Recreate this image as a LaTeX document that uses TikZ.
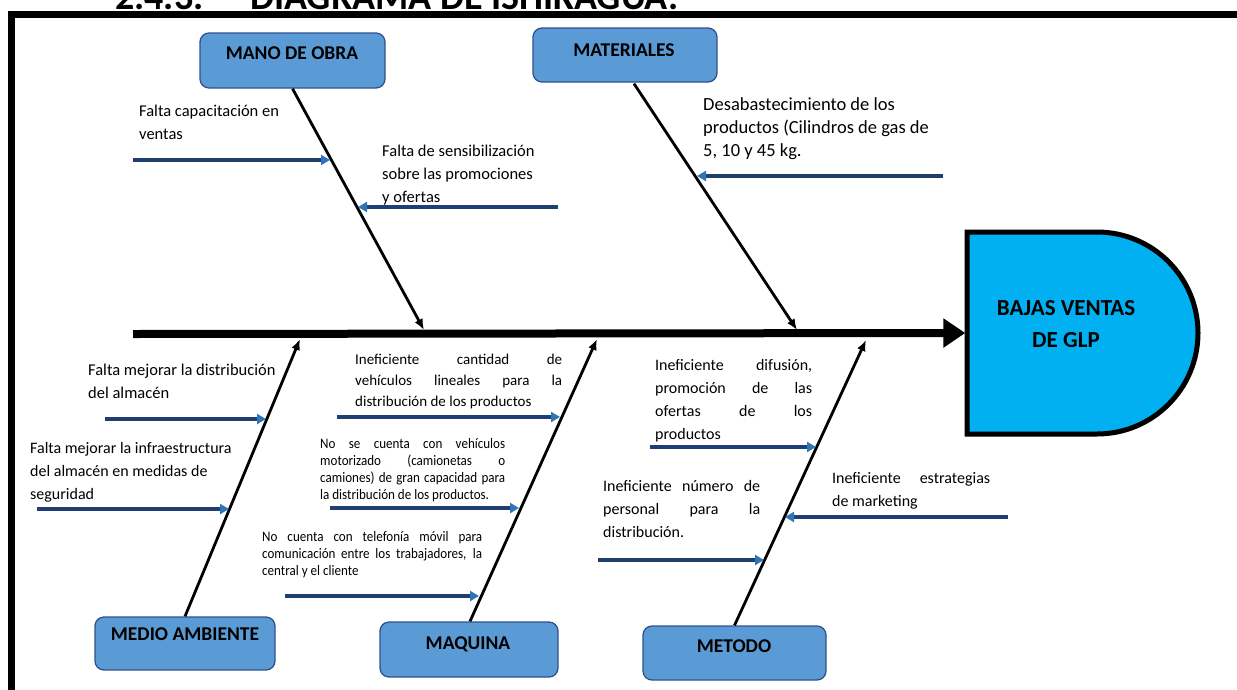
\documentclass[tikz,border=0pt]{standalone}
\usepackage{fontspec}
\setmainfont{Carlito}
\usetikzlibrary{arrows.meta,calc}
\hyphenpenalty=10000
\tolerance=10000
\hbadness=10000
\definecolor{boxblue}{HTML}{5B9BD5}
\definecolor{boxedge}{HTML}{2F528F}
\definecolor{effblue}{HTML}{00B0F0}
\definecolor{navy}{HTML}{1F3F73}
\definecolor{tipblue}{HTML}{2E75B6}
\tikzset{
  catbox/.style={draw=boxedge, fill=boxblue, line width=1.3pt, rounded corners=9pt, inner sep=0pt},
  cattext/.style={font=\fontsize{19.5}{20}\selectfont\bfseries, inner sep=0pt},
  titletext/.style={font=\fontsize{38}{38}\selectfont\bfseries, inner sep=0pt, anchor=base west},
  cause/.style={font=\fontsize{#1}{23}\selectfont, inner sep=0pt, anchor=north west, align=left},
  causej/.style={font=\fontsize{16}{23}\selectfont, inner sep=0pt, anchor=north west, align=justify, text width=#1},
  midj/.style={font=\fontsize{15}{21}\selectfont, inner sep=0pt, anchor=north west, align=justify, text width=#1},
  smallj/.style={font=\fontsize{14.5}{17}\selectfont\addfontfeatures{FakeStretch=0.9}, inner sep=0pt, anchor=north west, align=justify, text width=#1},
  bone/.style={line width=2.8pt, -{Latex[length=11pt,width=9pt]}},
  spine/.style={line width=8pt, -{Triangle[length=22pt,width=28pt]}},
  carrow/.style={draw=navy, line width=3.1pt, -{Triangle[length=9pt,width=10pt,color=tipblue]}},
}
\begin{document}
\begin{tikzpicture}[x=1pt,y=-1pt]
\useasboundingbox (0,0) rectangle (1237,689);
\clip (0,0) rectangle (1237,689);
% title (cut off at top, as in the reference)
\node[titletext] (t1) at (115,9) {2.4.3.};
\node[titletext] (t2) at (250,9) {DIAGRAMA DE ISHIKAGUA.};
% frame
\draw[line width=7pt] (11.5,700) -- (11.5,14) -- (1260,14);

% effect
\draw[line width=5pt, fill=effblue] (967,232) -- (1097,232) arc[start angle=-90, end angle=90, radius=101] -- (967,434) -- cycle;
\node[inner sep=0pt, minimum width=233pt, minimum height=202pt] (bv) at (1082,333) {};
\node[font=\fontsize{23}{32}\selectfont\bfseries, align=center, inner sep=0pt] (bvt) at (1066,324) {BAJAS VENTAS\\DE GLP};

% category boxes
\node[catbox, minimum width=185pt, minimum height=55pt] (mo) at (292.5,60.5) {};
\node[cattext] (mot) at (292,53) {MANO DE OBRA};
\node[catbox, minimum width=184pt, minimum height=54pt] (ma) at (625,55) {};
\node[cattext] (mat) at (624,50) {MATERIALES};
\node[catbox, minimum width=180pt, minimum height=53pt] (me) at (185,643.5) {};
\node[cattext] (met) at (185,634) {MEDIO AMBIENTE};
\node[catbox, minimum width=178pt, minimum height=55pt] (mq) at (469,649.5) {};
\node[cattext] (mqt) at (468,644) {MAQUINA};
\node[catbox, minimum width=183pt, minimum height=54pt] (mt) at (734.5,653) {};
\node[cattext] (mtt) at (734,646) {METODO};

% spine
\coordinate (sp0) at (133,334);
\draw[spine] (sp0) -- (bv.west);

% bones
\coordinate (moE) at (424,330);
\coordinate (maE) at (797,330);
\coordinate (meE) at (300,339);
\coordinate (mqE) at (597,339);
\coordinate (mtE) at (866,340);
\draw[bone] (mo.south) -- (moE);
\draw[bone] ($(ma.south)+(9,1)$) -- (maE);
\draw[bone] (me.north) -- (meE);
\draw[bone] ($(mq.north)+(1,0)$) -- (mqE);
\draw[bone] (mt.north) -- (mtE);

% MANO DE OBRA causes
\node[cause=16.5] (c1) at (139,100) {\strut Falta capacitación en\\ventas};
\coordinate (a1s) at (133,160); \coordinate (a1e) at (330,160);
\draw[carrow] (a1s) -- (a1e);
\node[cause=16.5] (c2) at (382,140) {\strut Falta de sensibilización\\sobre las promociones\\y ofertas};
\coordinate (a2s) at (558,207); \coordinate (a2e) at (358,207);
\draw[carrow] (a2s) -- (a2e);

% MATERIALES cause
\node[cause=18.5] (c3) at (703,94) {\strut Desabastecimiento de los\\productos (Cilindros de gas de\\5, 10 y 45 kg.};
\coordinate (a3s) at (943,176); \coordinate (a3e) at (697,176);
\draw[carrow] (a3s) -- (a3e);

% MEDIO AMBIENTE causes
\node[cause=16.5] (c4) at (88,359) {\strut Falta mejorar la distribución\\del almacén};
\coordinate (a4s) at (105,419); \coordinate (a4e) at (266,419);
\draw[carrow] (a4s) -- (a4e);
\node[cause=16] (c5) at (30,437) {\strut Falta mejorar la infraestructura\\del almacén en medidas de\\seguridad};
\coordinate (a5s) at (37,509); \coordinate (a5e) at (229,509);
\draw[carrow] (a5s) -- (a5e);

% MAQUINA causes
\node[midj=207pt] (c6) at (355,350) {\strut Ineficiente cantidad de\linebreak vehículos lineales para la\linebreak distribución de los productos};
\coordinate (a6s) at (337,417); \coordinate (a6e) at (560,417);
\draw[carrow] (a6s) -- (a6e);
\node[smallj=185pt] (c7) at (320,436) {\strut No se cuenta con vehículos\linebreak motorizado (camionetas o\linebreak camiones) de gran capacidad para\linebreak la distribución de los productos.};
\coordinate (a7s) at (330,508); \coordinate (a7e) at (519,508);
\draw[carrow] (a7s) -- (a7e);
\node[smallj=220pt] (c8) at (262,529) {\strut No cuenta con telefonía móvil para\linebreak comunicación entre los trabajadores, la\linebreak central y el cliente};
\coordinate (a8s) at (285,596); \coordinate (a8e) at (479,596);
\draw[carrow] (a8s) -- (a8e);

% METODO causes
\node[causej=157pt] (c9) at (655,354) {\strut Ineficiente difusión,\linebreak promoción de las\linebreak ofertas de los\linebreak productos};
\coordinate (a9s) at (650,447); \coordinate (a9e) at (816,447);
\draw[carrow] (a9s) -- (a9e);
\node[causej=157pt] (c10) at (603,475) {\strut Ineficiente número de\linebreak personal para la\linebreak distribución.};
\coordinate (a10s) at (598,560); \coordinate (a10e) at (764,560);
\draw[carrow] (a10s) -- (a10e);
\node[causej=158pt] (c11) at (832,467) {\strut Ineficiente estrategias\linebreak de marketing};
\coordinate (a11s) at (1008,517); \coordinate (a11e) at (785,517);
\draw[carrow] (a11s) -- (a11e);
\end{tikzpicture}
\end{document}
